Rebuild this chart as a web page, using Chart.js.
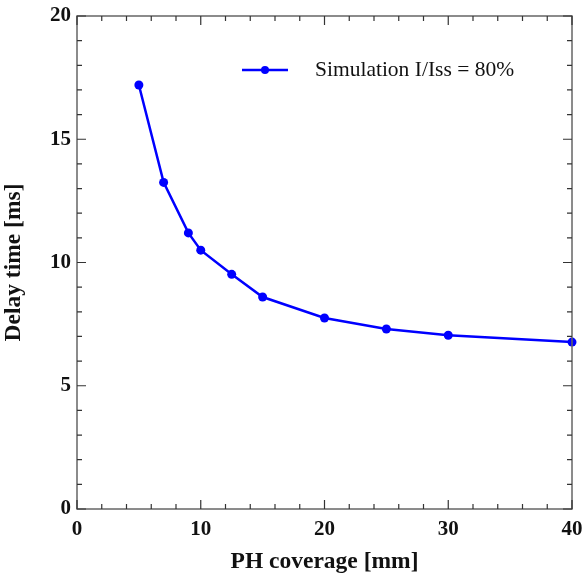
<!DOCTYPE html>
<html>
<head>
<meta charset="utf-8">
<script src="https://cdn.jsdelivr.net/npm/chart.js@4/dist/chart.umd.min.js"></script>
<style>
html,body{margin:0;padding:0;background:#fff;}
#wrap{width:584px;height:576px;}
</style>
</head>
<body>
<div id="wrap"><canvas id="c" width="584" height="576"></canvas></div>
<script>
const coverage = [5, 7, 9, 10, 12.5, 15, 20, 25, 30, 40];
const delay = [17.2, 13.25, 11.2, 10.5, 9.52, 8.6, 7.75, 7.3, 7.05, 6.77];
const seriesLabel = 'Simulation I/Iss = 80%';
const xTitle = 'PH coverage [mm]';
const yTitle = 'Delay time [ms]';
const xMajorTicks = [0, 10, 20, 30, 40];
const yMajorTicks = [0, 5, 10, 15, 20];

const AXIS_COLOR = '#666666';
const SERIF = '"Liberation Serif", "Times New Roman", serif';

const frameTicks = {
  id: 'frameTicks',
  afterDatasetsDraw(chart) {
    const ctx = chart.ctx;
    const a = chart.chartArea;
    const xs = chart.scales.x, ys = chart.scales.y;
    ctx.save();
    ctx.strokeStyle = AXIS_COLOR;
    ctx.lineWidth = 1.5;
    ctx.strokeRect(a.left, a.top, a.right - a.left, a.bottom - a.top);
    ctx.strokeStyle = '#333';
    ctx.lineWidth = 1.2;
    xs.ticks.forEach((t, i) => {
      const px = xs.getPixelForTick(i);
      const len = xMajorTicks.includes(t.value) ? 9 : 5;
      ctx.beginPath();
      ctx.moveTo(px, a.bottom); ctx.lineTo(px, a.bottom - len);
      ctx.moveTo(px, a.top); ctx.lineTo(px, a.top + len);
      ctx.stroke();
    });
    ys.ticks.forEach((t, i) => {
      const py = ys.getPixelForTick(i);
      const len = yMajorTicks.includes(t.value) ? 9 : 5;
      ctx.beginPath();
      ctx.moveTo(a.left, py); ctx.lineTo(a.left + len, py);
      ctx.moveTo(a.right, py); ctx.lineTo(a.right - len, py);
      ctx.stroke();
    });
    // legend
    const ds = chart.data.datasets[0];
    const ly = 70, lx0 = 242, lx1 = 288;
    ctx.strokeStyle = ds.borderColor;
    ctx.lineWidth = 2.5;
    ctx.beginPath(); ctx.moveTo(lx0, ly); ctx.lineTo(lx1, ly); ctx.stroke();
    ctx.fillStyle = ds.pointBackgroundColor;
    ctx.beginPath(); ctx.arc((lx0 + lx1) / 2, ly, 4, 0, Math.PI * 2); ctx.fill();
    ctx.fillStyle = '#111';
    ctx.font = '21.5px ' + SERIF;
    ctx.textBaseline = 'middle';
    ctx.textAlign = 'left';
    ctx.fillText(ds.label, 315, ly);
    ctx.restore();
  }
};

new Chart(document.getElementById('c'), {
  type: 'line',
  data: {
    datasets: [{
      label: seriesLabel,
      data: coverage.map((x, i) => ({x: x, y: delay[i]})),
      borderColor: '#0000ff',
      backgroundColor: '#0000ff',
      pointBackgroundColor: '#0000ff',
      pointBorderColor: '#0000ff',
      pointRadius: 4.5,
      pointBorderWidth: 0,
      borderWidth: 2.5,
      tension: 0,
      clip: false
    }]
  },
  options: {
    responsive: false,
    animation: false,
    devicePixelRatio: 1,
    layout: {padding: {left: 0, right: 12, top: 16, bottom: 0}},
    plugins: {legend: {display: false}, tooltip: {enabled: false}},
    scales: {
      x: {
        type: 'linear', min: 0, max: 40,
        afterFit(s) { s.height = 67; s.paddingLeft = 0; s.paddingRight = 0; },
        grid: {display: false, drawTicks: false},
        border: {display: false},
        ticks: {
          stepSize: 2, autoSkip: false, maxRotation: 0, padding: 8,
          color: '#111',
          font: {family: SERIF, size: 21, weight: 'bold'},
          callback: v => xMajorTicks.includes(v) ? String(v) : ''
        },
        title: {
          display: true, text: xTitle, color: '#111',
          font: {family: SERIF, size: 23.5, weight: 'bold'},
          padding: {top: 3, bottom: 0}
        }
      },
      y: {
        type: 'linear', min: 0, max: 20,
        afterFit(s) { s.width = 77; s.paddingTop = 0; s.paddingBottom = 0; },
        grid: {display: false, drawTicks: false},
        border: {display: false},
        ticks: {
          stepSize: 1, autoSkip: false, padding: 6,
          color: '#111',
          font: {family: SERIF, size: 21, weight: 'bold'},
          callback: v => yMajorTicks.includes(v) ? String(v) : ''
        },
        title: {
          display: true, text: yTitle, color: '#111',
          font: {family: SERIF, size: 23.5, weight: 'bold'},
          padding: {top: 0, bottom: 4}
        }
      }
    }
  },
  plugins: [frameTicks]
});
</script>
</body>
</html>
